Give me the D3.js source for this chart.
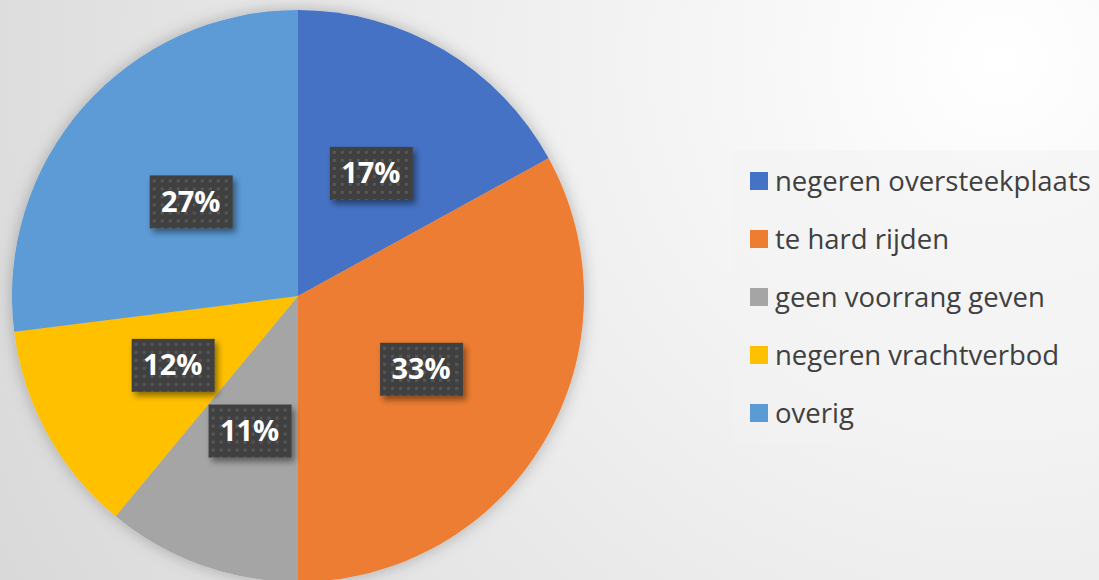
<!DOCTYPE html>
<html>
<head>
<meta charset="utf-8">
<script src="https://cdn.jsdelivr.net/npm/d3@7"></script>
<style>
  body { margin: 0; overflow: hidden; }
  svg { display: block; }
</style>
</head>
<body>
<div id="chart"></div>
<script>
var width = 1099;
var height = 580;

let categories = ["negeren oversteekplaats", "te hard rijden", "geen voorrang geven", "negeren vrachtverbod", "overig"];
let values = [17, 33, 11, 12, 27];
let colors = ["#4472C4", "#ED7D31", "#A5A5A5", "#FFC000", "#5B9BD5"];

let cx = 298, cy = 296, radius = 286;

var svg = d3.select("#chart")
            .append("svg")
              .attr("width", width).attr("height", height);

let defs = svg.append("defs");

// background gradient, light on the right
let bg = defs.append("radialGradient").attr("id", "bg")
    .attr("gradientUnits", "userSpaceOnUse")
    .attr("cx", 1000).attr("cy", 60).attr("r", 1150);
bg.append("stop").attr("offset", "0%").attr("stop-color", "#ffffff");
bg.append("stop").attr("offset", "45%").attr("stop-color", "#eeeeee");
bg.append("stop").attr("offset", "100%").attr("stop-color", "#d8d8d8");

let shadow = defs.append("filter").attr("id", "pieShadow")
    .attr("x", "-20%").attr("y", "-20%").attr("width", "140%").attr("height", "140%");
shadow.append("feDropShadow").attr("dx", 0).attr("dy", 0).attr("stdDeviation", 8)
    .attr("flood-color", "#000").attr("flood-opacity", 0.25);

let boxShadow = defs.append("filter").attr("id", "boxShadow")
    .attr("x", "-30%").attr("y", "-30%").attr("width", "160%").attr("height", "170%");
boxShadow.append("feDropShadow").attr("dx", 3).attr("dy", 4).attr("stdDeviation", 3)
    .attr("flood-color", "#000").attr("flood-opacity", 0.45);

// dotted fill of the label boxes
let dots = defs.append("pattern").attr("id", "dots")
    .attr("patternUnits", "userSpaceOnUse").attr("width", 8).attr("height", 8);
dots.append("rect").attr("width", 8).attr("height", 8).attr("fill", "#404040");
dots.append("rect").attr("x", 2).attr("y", 2).attr("width", 3).attr("height", 3).attr("fill", "#575757");

svg.append("rect").attr("width", width).attr("height", height).attr("fill", "url(#bg)");

let pie = d3.pie().sort(null).value(d => d);
let arc = d3.arc().innerRadius(0).outerRadius(radius);
let arcs = pie(values);

let gPie = svg.append("g").attr("transform", `translate(${cx},${cy})`);

gPie.append("g").attr("filter", "url(#pieShadow)")
    .selectAll("path").data(arcs)
    .join("path")
    .attr("d", arc)
    .attr("fill", (d, i) => colors[i]);

let total = d3.sum(values);
let labels = gPie.selectAll(".lbl").data(arcs)
    .join("g").attr("class", "lbl")
    .attr("transform", d => `translate(${arc.centroid(d)})`);

labels.append("rect")
    .attr("x", -41).attr("y", -26).attr("width", 83).attr("height", 53)
    .attr("fill", "url(#dots)")
    .attr("filter", "url(#boxShadow)");

labels.append("text")
    .attr("text-anchor", "middle")
    .attr("dy", "0.36em")
    .attr("font-family", "'Open Sans', Lato, sans-serif")
    .attr("font-weight", "bold")
    .attr("font-size", 29)
    .attr("fill", "#ffffff")
    .text(d => Math.round(d.value / total * 100) + "%");

// legend
let legend = svg.append("g");
legend.append("rect")
    .attr("x", 733).attr("y", 150).attr("width", 370).attr("height", 293)
    .attr("fill", "#f2f2f2").attr("fill-opacity", 0.55);

let rowY = d3.scalePoint().domain(categories).range([181, 413]);

let items = legend.selectAll(".leg").data(categories)
    .join("g").attr("class", "leg")
    .attr("transform", d => `translate(750,${rowY(d)})`);

items.append("rect")
    .attr("x", 0).attr("y", -9).attr("width", 18).attr("height", 18)
    .attr("fill", (d, i) => colors[i]);

items.append("text")
    .attr("x", 25).attr("dy", "0.35em")
    .attr("font-family", "'Open Sans', Lato, sans-serif")
    .attr("font-size", 27.5)
    .attr("fill", "#404040")
    .text(d => d);
</script>
</body>
</html>
